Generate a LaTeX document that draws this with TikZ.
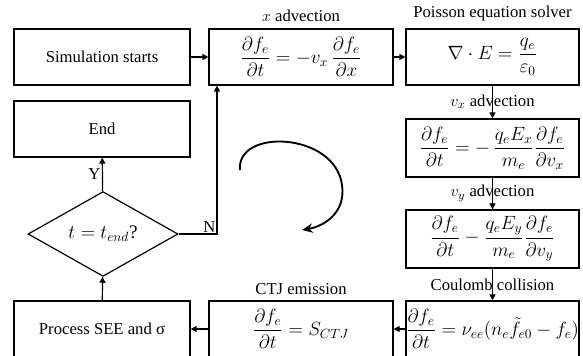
\documentclass[tikz,border=0pt]{standalone}
\usepackage{amsmath}
\usepackage{fontspec}
\setmainfont{Liberation Serif}
\usepackage{tikz}
\usetikzlibrary{arrows.meta, positioning, shapes.geometric}

\begin{document}
\begin{tikzpicture}[x=0.75pt, y=-0.75pt,
    >={Triangle[length=4.5pt, width=4.5pt]},
    box/.style={
        draw=black, line width=0.9pt,
        minimum width=#1*0.75pt, minimum height=42pt,
        align=center, inner sep=2pt,
        font=\fontsize{12.5}{15}\selectfont
    },
    eqn/.style={
        box=#1,
        font=\fontsize{14.4}{17}\selectfont
    },
    lbl/.style={
        font=\fontsize{12.5}{15}\selectfont,
        inner sep=1pt
    },
    flow/.style={->, line width=0.9pt}
]

\useasboundingbox (0,0) rectangle (583,356);

% =========================
% TOP ROW
% =========================
\node[box=176] (START) at (102,57) {Simulation starts};

\node[eqn=184] (XADV) at (301,57)
 {$\dfrac{\partial f_e}{\partial t} = -v_x\,\dfrac{\partial f_e}{\partial x}$};

\node[eqn=173] (POIS) at (492.5,57)
 {$\nabla\cdot E = \dfrac{q_e}{\varepsilon_0}$};

\node[lbl, above=4pt of XADV] (XLBL) {$x$ advection};
\node[lbl, above=4pt of POIS] (PLBL) {Poisson equation solver};

% =========================
% RIGHT COLUMN
% =========================
\node[eqn=173, minimum height=43.5pt] (VXADV) at (492.5,148)
 {$\dfrac{\partial f_e}{\partial t} = -\,\dfrac{q_e E_x}{m_e}\dfrac{\partial f_e}{\partial v_x}$};

\node[eqn=173, minimum height=43.5pt] (VYADV) at (492.5,239)
 {$\dfrac{\partial f_e}{\partial t} - \dfrac{q_e E_y}{m_e}\dfrac{\partial f_e}{\partial v_y}$};

\node[eqn=173, inner sep=0pt] (COUL) at (492.5,329)
 {$\dfrac{\partial f_e}{\partial t} = \nu_{ee}(n_e\tilde{f}_{e0} - f_e)$};

% =========================
% BOTTOM ROW
% =========================
\node[eqn=184] (CTJ) at (301,329)
 {$\dfrac{\partial f_e}{\partial t} = S_{CTJ}$};

\node[lbl, above=3pt of CTJ] (CLBL) {CTJ emission};

\node[box=176] (SEE) at (102,329) {Process SEE and σ};

% =========================
% LEFT COLUMN
% =========================
\node[box=176] (END) at (102,129) {End};

\node[draw=black, line width=0.9pt, diamond, inner sep=0pt,
      minimum width=112.5pt, minimum height=52.5pt,
      font=\fontsize{14.4}{17}\selectfont] (CHK) at (103,234)
 {$t = t_{end}$?};

% =========================
% CONNECTORS
% =========================
\draw[flow] (START) -- (XADV);
\draw[flow] (XADV) -- (POIS);

\draw[flow] (POIS) -- (VXADV)
node[midway, lbl]{$v_x$ advection};

\draw[flow] (VXADV) -- (VYADV)
node[midway, lbl]{$v_y$ advection};

\draw[flow] (VYADV) -- (COUL)
node[midway, lbl]{Coulomb collision};

\draw[flow] (COUL) -- (CTJ);
\draw[flow] (CTJ) -- (SEE);
\draw[flow] (SEE) -- (CHK);

\draw[flow] (CHK) -- (END)
node[midway, left, lbl]{Y};

\draw[flow] (CHK.east) -| ([xshift=-63pt]XADV.south)
node[pos=0.4, above, lbl]{N};

% =========================
% LOOP MARK
% =========================
\coordinate (CURLA) at (240,170);
\coordinate (CURLB) at (302,230);
\draw[-{Stealth[length=8pt, width=7pt]}, line width=1.4pt]
(CURLA) .. controls (236,128) and (335,132) .. (342,185)
        .. controls (346,212) and (325,226) .. (CURLB);

\end{tikzpicture}
\end{document}
